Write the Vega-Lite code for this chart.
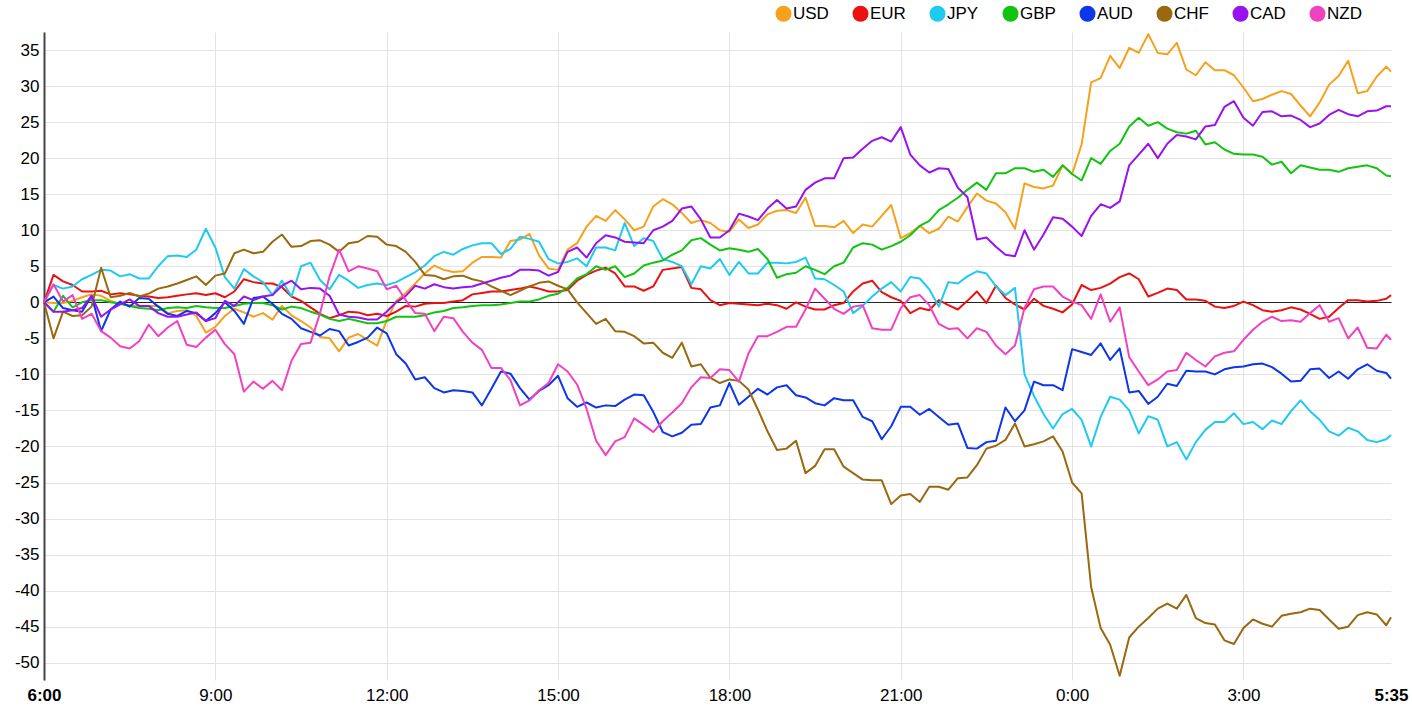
{
  "$schema": "https://vega.github.io/schema/vega-lite/v6.json",
  "width": 1347,
  "height": 648,
  "autosize": {"type": "none"},
  "padding": {"left": 44, "top": 32, "right": 21, "bottom": 31},
  "background": "white",
  "config": {"view": {"stroke": null}, "font": "Liberation Sans"},
  "data": {
    "values": [
      {"t": "2024-01-01T06:00", "USD": 0, "EUR": 0, "JPY": 0, "GBP": 0, "AUD": 0, "CHF": 0, "CAD": 0, "NZD": 0},
      {"t": "2024-01-01T06:10", "USD": -0.1, "EUR": 3.8, "JPY": 2.4, "GBP": -1.3, "AUD": 0.8, "CHF": -5.0, "CAD": -1.3, "NZD": 2.5},
      {"t": "2024-01-01T06:20", "USD": -0.1, "EUR": 2.9, "JPY": 1.9, "GBP": 0.9, "AUD": -0.8, "CHF": -1.3, "CAD": -1.3, "NZD": 0.1},
      {"t": "2024-01-01T06:30", "USD": 0.2, "EUR": 2.4, "JPY": 2.2, "GBP": -0.7, "AUD": -1.1, "CHF": -1.9, "CAD": -1.1, "NZD": 1.0},
      {"t": "2024-01-01T06:40", "USD": 0.7, "EUR": 1.5, "JPY": 3.2, "GBP": 0.0, "AUD": -1.3, "CHF": -1.8, "CAD": -0.8, "NZD": -2.3},
      {"t": "2024-01-01T06:50", "USD": 1.1, "EUR": 1.5, "JPY": 3.8, "GBP": 0.3, "AUD": 0.9, "CHF": -0.6, "CAD": 0.9, "NZD": -1.6},
      {"t": "2024-01-01T07:00", "USD": 0.9, "EUR": 1.6, "JPY": 4.5, "GBP": 0.3, "AUD": -4.0, "CHF": 4.8, "CAD": -2.0, "NZD": -4.0},
      {"t": "2024-01-01T07:10", "USD": 0.2, "EUR": 1.1, "JPY": 4.4, "GBP": 0.0, "AUD": -1.0, "CHF": 0.7, "CAD": -1.0, "NZD": -4.9},
      {"t": "2024-01-01T07:20", "USD": -0.2, "EUR": 1.25, "JPY": 3.6, "GBP": -0.2, "AUD": 0.1, "CHF": 0.9, "CAD": -0.3, "NZD": -6.1},
      {"t": "2024-01-01T07:30", "USD": -0.4, "EUR": 1.1, "JPY": 3.9, "GBP": -0.5, "AUD": -0.6, "CHF": 1.3, "CAD": 0.4, "NZD": -6.4},
      {"t": "2024-01-01T07:40", "USD": -0.6, "EUR": 0.9, "JPY": 3.3, "GBP": -0.8, "AUD": 0.6, "CHF": 0.8, "CAD": -0.5, "NZD": -5.4},
      {"t": "2024-01-01T07:50", "USD": -0.5, "EUR": 0.8, "JPY": 3.3, "GBP": -0.9, "AUD": 0.5, "CHF": 1.2, "CAD": -0.5, "NZD": -3.1},
      {"t": "2024-01-01T08:00", "USD": -0.5, "EUR": 0.6, "JPY": 5.0, "GBP": -1.1, "AUD": -0.6, "CHF": 1.9, "CAD": -1.5, "NZD": -4.7},
      {"t": "2024-01-01T08:10", "USD": -1.5, "EUR": 0.7, "JPY": 6.4, "GBP": -0.8, "AUD": -1.6, "CHF": 2.2, "CAD": -2.0, "NZD": -3.5},
      {"t": "2024-01-01T08:20", "USD": -1.2, "EUR": 0.9, "JPY": 6.5, "GBP": -0.7, "AUD": -1.9, "CHF": 2.6, "CAD": -2.0, "NZD": -2.6},
      {"t": "2024-01-01T08:30", "USD": -1.1, "EUR": 1.1, "JPY": 6.3, "GBP": -0.8, "AUD": -1.2, "CHF": 3.1, "CAD": -1.7, "NZD": -5.9},
      {"t": "2024-01-01T08:40", "USD": -1.9, "EUR": 1.25, "JPY": 7.3, "GBP": -0.5, "AUD": -1.5, "CHF": 3.6, "CAD": -1.4, "NZD": -6.2},
      {"t": "2024-01-01T08:50", "USD": -4.2, "EUR": 1.0, "JPY": 10.2, "GBP": -0.7, "AUD": -2.6, "CHF": 2.4, "CAD": -2.6, "NZD": -4.9},
      {"t": "2024-01-01T09:00", "USD": -3.4, "EUR": 1.25, "JPY": 7.6, "GBP": -0.8, "AUD": -1.5, "CHF": 3.7, "CAD": -2.2, "NZD": -3.8},
      {"t": "2024-01-01T09:10", "USD": -1.9, "EUR": 0.7, "JPY": 3.5, "GBP": -0.8, "AUD": 0.0, "CHF": 4.0, "CAD": 0.2, "NZD": -5.8},
      {"t": "2024-01-01T09:20", "USD": -0.9, "EUR": 1.5, "JPY": 1.9, "GBP": -0.5, "AUD": -1.2, "CHF": 6.8, "CAD": -0.5, "NZD": -7.2},
      {"t": "2024-01-01T09:30", "USD": -1.4, "EUR": 3.2, "JPY": 4.6, "GBP": -0.2, "AUD": -3.0, "CHF": 7.3, "CAD": 0.8, "NZD": -12.4},
      {"t": "2024-01-01T09:40", "USD": -2.0, "EUR": 2.8, "JPY": 3.6, "GBP": -0.1, "AUD": 0.6, "CHF": 6.8, "CAD": 0.3, "NZD": -11.0},
      {"t": "2024-01-01T09:50", "USD": -1.5, "EUR": 2.6, "JPY": 2.8, "GBP": -0.1, "AUD": 0.8, "CHF": 7.0, "CAD": 0.8, "NZD": -12.0},
      {"t": "2024-01-01T10:00", "USD": -2.4, "EUR": 2.6, "JPY": 1.0, "GBP": -0.4, "AUD": -0.2, "CHF": 8.4, "CAD": 1.0, "NZD": -10.9},
      {"t": "2024-01-01T10:10", "USD": -0.5, "EUR": 2.1, "JPY": 3.0, "GBP": -1.0, "AUD": -1.6, "CHF": 9.4, "CAD": 2.3, "NZD": -12.2},
      {"t": "2024-01-01T10:20", "USD": -1.8, "EUR": 0.8, "JPY": 0.8, "GBP": -0.6, "AUD": -2.3, "CHF": 7.7, "CAD": 3.0, "NZD": -8.1},
      {"t": "2024-01-01T10:30", "USD": -2.6, "EUR": 0.2, "JPY": 5.0, "GBP": -0.8, "AUD": -3.6, "CHF": 7.8, "CAD": 1.8, "NZD": -5.8},
      {"t": "2024-01-01T10:40", "USD": -3.5, "EUR": -0.7, "JPY": 5.5, "GBP": -1.3, "AUD": -4.1, "CHF": 8.5, "CAD": 2.0, "NZD": -5.6},
      {"t": "2024-01-01T10:50", "USD": -4.8, "EUR": -1.6, "JPY": 3.1, "GBP": -1.7, "AUD": -4.6, "CHF": 8.6, "CAD": 1.9, "NZD": -1.5},
      {"t": "2024-01-01T11:00", "USD": -5.0, "EUR": -2.2, "JPY": 1.8, "GBP": -2.3, "AUD": -3.7, "CHF": 8.0, "CAD": 0.9, "NZD": 3.6},
      {"t": "2024-01-01T11:10", "USD": -6.8, "EUR": -1.8, "JPY": 3.8, "GBP": -2.6, "AUD": -4.0, "CHF": 7.0, "CAD": -1.7, "NZD": 7.3},
      {"t": "2024-01-01T11:20", "USD": -4.9, "EUR": -1.3, "JPY": 3.0, "GBP": -2.3, "AUD": -6.0, "CHF": 8.2, "CAD": -2.0, "NZD": 4.3},
      {"t": "2024-01-01T11:30", "USD": -4.4, "EUR": -1.4, "JPY": 2.0, "GBP": -2.6, "AUD": -5.5, "CHF": 8.4, "CAD": -2.1, "NZD": 5.0},
      {"t": "2024-01-01T11:40", "USD": -5.2, "EUR": -1.8, "JPY": 2.4, "GBP": -2.9, "AUD": -4.9, "CHF": 9.2, "CAD": -2.4, "NZD": 4.7},
      {"t": "2024-01-01T11:50", "USD": -6.0, "EUR": -1.6, "JPY": 2.6, "GBP": -2.9, "AUD": -3.5, "CHF": 9.1, "CAD": -2.4, "NZD": 4.3},
      {"t": "2024-01-01T12:00", "USD": -2.5, "EUR": -1.9, "JPY": 2.4, "GBP": -2.6, "AUD": -4.3, "CHF": 8.0, "CAD": -1.3, "NZD": 1.8},
      {"t": "2024-01-01T12:10", "USD": 0.2, "EUR": -1.3, "JPY": 2.8, "GBP": -2.0, "AUD": -7.2, "CHF": 7.8, "CAD": 0.0, "NZD": 2.3},
      {"t": "2024-01-01T12:20", "USD": 1.3, "EUR": -0.5, "JPY": 3.5, "GBP": -2.0, "AUD": -8.5, "CHF": 7.0, "CAD": 0.9, "NZD": 0.3},
      {"t": "2024-01-01T12:30", "USD": 2.6, "EUR": -0.6, "JPY": 4.2, "GBP": -2.0, "AUD": -10.7, "CHF": 5.6, "CAD": 2.3, "NZD": -1.5},
      {"t": "2024-01-01T12:40", "USD": 4.0, "EUR": -0.2, "JPY": 5.1, "GBP": -1.8, "AUD": -10.4, "CHF": 3.8, "CAD": 1.9, "NZD": -1.6},
      {"t": "2024-01-01T12:50", "USD": 5.1, "EUR": -0.1, "JPY": 6.4, "GBP": -1.4, "AUD": -11.9, "CHF": 3.7, "CAD": 2.5, "NZD": -4.0},
      {"t": "2024-01-01T13:00", "USD": 4.5, "EUR": -0.1, "JPY": 7.0, "GBP": -1.2, "AUD": -12.5, "CHF": 3.2, "CAD": 2.1, "NZD": -2.0},
      {"t": "2024-01-01T13:10", "USD": 4.2, "EUR": 0.1, "JPY": 6.6, "GBP": -0.8, "AUD": -12.2, "CHF": 3.6, "CAD": 1.9, "NZD": -2.2},
      {"t": "2024-01-01T13:20", "USD": 4.3, "EUR": 0.3, "JPY": 7.4, "GBP": -0.7, "AUD": -12.3, "CHF": 3.7, "CAD": 2.1, "NZD": -4.1},
      {"t": "2024-01-01T13:30", "USD": 5.5, "EUR": 1.1, "JPY": 7.9, "GBP": -0.5, "AUD": -12.5, "CHF": 3.2, "CAD": 2.2, "NZD": -5.6},
      {"t": "2024-01-01T13:40", "USD": 6.3, "EUR": 1.3, "JPY": 8.2, "GBP": -0.4, "AUD": -14.3, "CHF": 2.9, "CAD": 2.6, "NZD": -6.6},
      {"t": "2024-01-01T13:50", "USD": 6.3, "EUR": 1.5, "JPY": 8.2, "GBP": -0.4, "AUD": -12.0, "CHF": 2.2, "CAD": 3.0, "NZD": -9.1},
      {"t": "2024-01-01T14:00", "USD": 6.2, "EUR": 1.5, "JPY": 6.7, "GBP": -0.3, "AUD": -9.6, "CHF": 1.6, "CAD": 3.4, "NZD": -9.1},
      {"t": "2024-01-01T14:10", "USD": 8.5, "EUR": 1.7, "JPY": 7.4, "GBP": -0.1, "AUD": -9.9, "CHF": 1.0, "CAD": 3.7, "NZD": -10.8},
      {"t": "2024-01-01T14:20", "USD": 8.7, "EUR": 1.9, "JPY": 9.1, "GBP": 0.1, "AUD": -11.9, "CHF": 1.6, "CAD": 4.5, "NZD": -14.3},
      {"t": "2024-01-01T14:30", "USD": 9.5, "EUR": 2.2, "JPY": 8.8, "GBP": 0.1, "AUD": -13.5, "CHF": 2.2, "CAD": 4.5, "NZD": -13.6},
      {"t": "2024-01-01T14:40", "USD": 6.5, "EUR": 1.9, "JPY": 8.4, "GBP": 0.4, "AUD": -12.3, "CHF": 2.7, "CAD": 4.4, "NZD": -12.2},
      {"t": "2024-01-01T14:50", "USD": 4.7, "EUR": 1.5, "JPY": 6.0, "GBP": 0.9, "AUD": -11.5, "CHF": 2.9, "CAD": 3.7, "NZD": -11.2},
      {"t": "2024-01-01T15:00", "USD": 4.5, "EUR": 1.5, "JPY": 5.4, "GBP": 1.2, "AUD": -10.2, "CHF": 2.3, "CAD": 4.2, "NZD": -8.6},
      {"t": "2024-01-01T15:10", "USD": 7.3, "EUR": 1.7, "JPY": 5.6, "GBP": 2.0, "AUD": -13.3, "CHF": 1.8, "CAD": 7.0, "NZD": -9.6},
      {"t": "2024-01-01T15:20", "USD": 8.2, "EUR": 3.0, "JPY": 6.1, "GBP": 3.3, "AUD": -14.5, "CHF": 0.0, "CAD": 7.6, "NZD": -11.4},
      {"t": "2024-01-01T15:30", "USD": 10.5, "EUR": 3.8, "JPY": 5.0, "GBP": 3.9, "AUD": -13.9, "CHF": -1.5, "CAD": 6.2, "NZD": -14.8},
      {"t": "2024-01-01T15:40", "USD": 12.0, "EUR": 4.4, "JPY": 7.6, "GBP": 5.0, "AUD": -14.6, "CHF": -3.0, "CAD": 8.2, "NZD": -19.2},
      {"t": "2024-01-01T15:50", "USD": 11.3, "EUR": 4.8, "JPY": 7.6, "GBP": 4.5, "AUD": -14.3, "CHF": -2.3, "CAD": 9.3, "NZD": -21.2},
      {"t": "2024-01-01T16:00", "USD": 12.8, "EUR": 4.0, "JPY": 7.2, "GBP": 5.0, "AUD": -14.4, "CHF": -4.0, "CAD": 9.0, "NZD": -19.3},
      {"t": "2024-01-01T16:10", "USD": 11.5, "EUR": 2.2, "JPY": 11.0, "GBP": 3.5, "AUD": -13.5, "CHF": -4.1, "CAD": 8.4, "NZD": -18.7},
      {"t": "2024-01-01T16:20", "USD": 10.0, "EUR": 2.2, "JPY": 7.8, "GBP": 4.0, "AUD": -12.8, "CHF": -4.7, "CAD": 8.3, "NZD": -16.1},
      {"t": "2024-01-01T16:30", "USD": 10.5, "EUR": 1.6, "JPY": 8.9, "GBP": 5.1, "AUD": -12.9, "CHF": -5.7, "CAD": 8.2, "NZD": -17.0},
      {"t": "2024-01-01T16:40", "USD": 13.3, "EUR": 2.2, "JPY": 8.5, "GBP": 5.5, "AUD": -15.2, "CHF": -5.6, "CAD": 10.0, "NZD": -18.0},
      {"t": "2024-01-01T16:50", "USD": 14.3, "EUR": 4.5, "JPY": 6.0, "GBP": 5.8, "AUD": -18.0, "CHF": -7.0, "CAD": 10.5, "NZD": -16.5},
      {"t": "2024-01-01T17:00", "USD": 13.6, "EUR": 4.7, "JPY": 5.6, "GBP": 6.6, "AUD": -18.6, "CHF": -7.7, "CAD": 11.3, "NZD": -15.3},
      {"t": "2024-01-01T17:10", "USD": 12.4, "EUR": 4.9, "JPY": 5.0, "GBP": 7.2, "AUD": -18.1, "CHF": -5.6, "CAD": 13.0, "NZD": -14.0},
      {"t": "2024-01-01T17:20", "USD": 11.0, "EUR": 2.0, "JPY": 2.5, "GBP": 8.6, "AUD": -17.0, "CHF": -8.9, "CAD": 13.3, "NZD": -11.8},
      {"t": "2024-01-01T17:30", "USD": 11.4, "EUR": 1.8, "JPY": 5.0, "GBP": 8.9, "AUD": -16.9, "CHF": -8.6, "CAD": 11.5, "NZD": -10.4},
      {"t": "2024-01-01T17:40", "USD": 11.0, "EUR": 0.3, "JPY": 4.7, "GBP": 8.0, "AUD": -14.6, "CHF": -10.5, "CAD": 9.0, "NZD": -10.5},
      {"t": "2024-01-01T17:50", "USD": 10.0, "EUR": -0.4, "JPY": 6.0, "GBP": 7.2, "AUD": -14.3, "CHF": -11.2, "CAD": 9.0, "NZD": -9.3},
      {"t": "2024-01-01T18:00", "USD": 9.8, "EUR": -0.1, "JPY": 3.8, "GBP": 7.5, "AUD": -11.2, "CHF": -10.7, "CAD": 10.0, "NZD": -9.4},
      {"t": "2024-01-01T18:10", "USD": 11.5, "EUR": -0.2, "JPY": 5.6, "GBP": 7.3, "AUD": -14.2, "CHF": -10.9, "CAD": 12.3, "NZD": -11.0},
      {"t": "2024-01-01T18:20", "USD": 10.3, "EUR": -0.3, "JPY": 4.0, "GBP": 7.0, "AUD": -13.1, "CHF": -12.1, "CAD": 11.9, "NZD": -7.1},
      {"t": "2024-01-01T18:30", "USD": 10.8, "EUR": -0.4, "JPY": 4.0, "GBP": 7.4, "AUD": -12.0, "CHF": -14.9, "CAD": 11.4, "NZD": -4.7},
      {"t": "2024-01-01T18:40", "USD": 12.2, "EUR": -0.2, "JPY": 5.5, "GBP": 6.0, "AUD": -12.8, "CHF": -17.9, "CAD": 13.0, "NZD": -4.7},
      {"t": "2024-01-01T18:50", "USD": 12.7, "EUR": -0.4, "JPY": 5.5, "GBP": 3.4, "AUD": -11.8, "CHF": -20.5, "CAD": 14.2, "NZD": -4.1},
      {"t": "2024-01-01T19:00", "USD": 12.8, "EUR": -0.9, "JPY": 5.4, "GBP": 3.9, "AUD": -11.5, "CHF": -20.3, "CAD": 13.0, "NZD": -3.4},
      {"t": "2024-01-01T19:10", "USD": 12.4, "EUR": 0.0, "JPY": 5.6, "GBP": 4.1, "AUD": -12.9, "CHF": -19.2, "CAD": 13.3, "NZD": -3.4},
      {"t": "2024-01-01T19:20", "USD": 14.5, "EUR": -0.6, "JPY": 6.2, "GBP": 5.0, "AUD": -13.2, "CHF": -23.7, "CAD": 15.6, "NZD": -1.0},
      {"t": "2024-01-01T19:30", "USD": 10.6, "EUR": -1.0, "JPY": 3.3, "GBP": 4.5, "AUD": -14.0, "CHF": -22.7, "CAD": 16.6, "NZD": 1.9},
      {"t": "2024-01-01T19:40", "USD": 10.6, "EUR": -1.0, "JPY": 3.2, "GBP": 3.9, "AUD": -14.3, "CHF": -20.4, "CAD": 17.2, "NZD": 0.5},
      {"t": "2024-01-01T19:50", "USD": 10.4, "EUR": -0.4, "JPY": 2.4, "GBP": 5.0, "AUD": -13.3, "CHF": -20.4, "CAD": 17.2, "NZD": -0.9},
      {"t": "2024-01-01T20:00", "USD": 11.3, "EUR": -0.1, "JPY": 1.5, "GBP": 5.5, "AUD": -13.6, "CHF": -22.8, "CAD": 20.0, "NZD": -1.6},
      {"t": "2024-01-01T20:10", "USD": 9.6, "EUR": 1.5, "JPY": -1.5, "GBP": 7.6, "AUD": -13.6, "CHF": -23.7, "CAD": 20.1, "NZD": -0.6},
      {"t": "2024-01-01T20:20", "USD": 10.8, "EUR": 2.6, "JPY": -0.5, "GBP": 8.2, "AUD": -15.9, "CHF": -24.6, "CAD": 21.3, "NZD": -0.4},
      {"t": "2024-01-01T20:30", "USD": 10.5, "EUR": 3.0, "JPY": 0.8, "GBP": 8.0, "AUD": -16.5, "CHF": -24.7, "CAD": 22.4, "NZD": -3.6},
      {"t": "2024-01-01T20:40", "USD": 12.0, "EUR": 1.4, "JPY": 1.9, "GBP": 7.3, "AUD": -19.0, "CHF": -24.7, "CAD": 22.9, "NZD": -3.8},
      {"t": "2024-01-01T20:50", "USD": 13.5, "EUR": 0.7, "JPY": 2.8, "GBP": 7.8, "AUD": -17.2, "CHF": -28.0, "CAD": 22.3, "NZD": -3.8},
      {"t": "2024-01-01T21:00", "USD": 8.9, "EUR": 0.2, "JPY": 1.5, "GBP": 8.4, "AUD": -14.5, "CHF": -26.8, "CAD": 24.3, "NZD": -0.8},
      {"t": "2024-01-01T21:10", "USD": 9.6, "EUR": -1.5, "JPY": 3.5, "GBP": 9.3, "AUD": -14.5, "CHF": -26.6, "CAD": 20.5, "NZD": 0.7},
      {"t": "2024-01-01T21:20", "USD": 10.6, "EUR": -0.8, "JPY": 3.3, "GBP": 10.6, "AUD": -15.6, "CHF": -27.7, "CAD": 19.0, "NZD": 1.0},
      {"t": "2024-01-01T21:30", "USD": 9.6, "EUR": -1.1, "JPY": 1.8, "GBP": 11.3, "AUD": -14.8, "CHF": -25.6, "CAD": 18.0, "NZD": -0.4},
      {"t": "2024-01-01T21:40", "USD": 10.2, "EUR": 0.3, "JPY": -0.6, "GBP": 12.8, "AUD": -15.9, "CHF": -25.6, "CAD": 18.6, "NZD": -3.0},
      {"t": "2024-01-01T21:50", "USD": 11.9, "EUR": -0.4, "JPY": 2.8, "GBP": 13.6, "AUD": -17.0, "CHF": -26.0, "CAD": 18.5, "NZD": -3.7},
      {"t": "2024-01-01T22:00", "USD": 11.2, "EUR": -1.0, "JPY": 2.6, "GBP": 14.5, "AUD": -16.8, "CHF": -24.4, "CAD": 15.9, "NZD": -3.6},
      {"t": "2024-01-01T22:10", "USD": 13.2, "EUR": 0.2, "JPY": 3.6, "GBP": 15.6, "AUD": -20.2, "CHF": -24.3, "CAD": 14.6, "NZD": -5.0},
      {"t": "2024-01-01T22:20", "USD": 15.1, "EUR": 1.5, "JPY": 4.3, "GBP": 16.6, "AUD": -20.3, "CHF": -22.6, "CAD": 8.7, "NZD": -3.6},
      {"t": "2024-01-01T22:30", "USD": 14.1, "EUR": -0.1, "JPY": 4.0, "GBP": 15.6, "AUD": -19.4, "CHF": -20.3, "CAD": 9.0, "NZD": -4.1},
      {"t": "2024-01-01T22:40", "USD": 13.7, "EUR": 2.3, "JPY": 2.2, "GBP": 17.9, "AUD": -19.2, "CHF": -19.9, "CAD": 7.7, "NZD": -6.0},
      {"t": "2024-01-01T22:50", "USD": 12.5, "EUR": 0.6, "JPY": 1.0, "GBP": 17.9, "AUD": -14.6, "CHF": -19.1, "CAD": 6.6, "NZD": -7.2},
      {"t": "2024-01-01T23:00", "USD": 10.2, "EUR": -0.3, "JPY": 2.0, "GBP": 18.6, "AUD": -16.5, "CHF": -16.8, "CAD": 6.4, "NZD": -6.0},
      {"t": "2024-01-01T23:10", "USD": 16.5, "EUR": -1.0, "JPY": -10.0, "GBP": 18.6, "AUD": -15.0, "CHF": -20.0, "CAD": 10.0, "NZD": -0.8},
      {"t": "2024-01-01T23:20", "USD": 16.0, "EUR": 0.5, "JPY": -13.0, "GBP": 18.1, "AUD": -11.0, "CHF": -19.7, "CAD": 7.3, "NZD": 1.8},
      {"t": "2024-01-01T23:30", "USD": 15.8, "EUR": -0.5, "JPY": -15.5, "GBP": 18.4, "AUD": -11.5, "CHF": -19.3, "CAD": 9.4, "NZD": 2.2},
      {"t": "2024-01-01T23:40", "USD": 16.2, "EUR": -0.9, "JPY": -17.5, "GBP": 17.4, "AUD": -11.5, "CHF": -18.6, "CAD": 11.8, "NZD": 2.2},
      {"t": "2024-01-01T23:50", "USD": 19.0, "EUR": -1.4, "JPY": -15.5, "GBP": 19.0, "AUD": -12.2, "CHF": -20.7, "CAD": 11.6, "NZD": 0.8},
      {"t": "2024-01-02T00:00", "USD": 17.8, "EUR": -0.3, "JPY": -14.8, "GBP": 17.8, "AUD": -6.5, "CHF": -25.0, "CAD": 10.5, "NZD": 0.1},
      {"t": "2024-01-02T00:10", "USD": 21.9, "EUR": 2.4, "JPY": -16.3, "GBP": 16.9, "AUD": -6.9, "CHF": -26.5, "CAD": 9.2, "NZD": -0.4},
      {"t": "2024-01-02T00:20", "USD": 30.5, "EUR": 1.7, "JPY": -20.0, "GBP": 20.0, "AUD": -7.3, "CHF": -39.5, "CAD": 12.0, "NZD": -2.3},
      {"t": "2024-01-02T00:30", "USD": 31.1, "EUR": 2.0, "JPY": -15.9, "GBP": 19.2, "AUD": -5.7, "CHF": -45.2, "CAD": 13.6, "NZD": 1.1},
      {"t": "2024-01-02T00:40", "USD": 34.2, "EUR": 2.6, "JPY": -13.1, "GBP": 21.0, "AUD": -8.0, "CHF": -47.5, "CAD": 13.1, "NZD": -2.7},
      {"t": "2024-01-02T00:50", "USD": 32.5, "EUR": 3.5, "JPY": -13.5, "GBP": 22.0, "AUD": -6.4, "CHF": -51.8, "CAD": 14.0, "NZD": -0.7},
      {"t": "2024-01-02T01:00", "USD": 35.3, "EUR": 4.0, "JPY": -15.0, "GBP": 24.4, "AUD": -12.5, "CHF": -46.5, "CAD": 19.0, "NZD": -7.6},
      {"t": "2024-01-02T01:10", "USD": 34.6, "EUR": 3.2, "JPY": -18.2, "GBP": 25.6, "AUD": -12.3, "CHF": -45.0, "CAD": 20.5, "NZD": -9.6},
      {"t": "2024-01-02T01:20", "USD": 37.2, "EUR": 0.8, "JPY": -15.8, "GBP": 24.5, "AUD": -14.1, "CHF": -43.8, "CAD": 22.0, "NZD": -11.5},
      {"t": "2024-01-02T01:30", "USD": 34.6, "EUR": 1.3, "JPY": -16.3, "GBP": 25.0, "AUD": -13.1, "CHF": -42.5, "CAD": 20.0, "NZD": -10.7},
      {"t": "2024-01-02T01:40", "USD": 34.4, "EUR": 1.9, "JPY": -20.0, "GBP": 24.1, "AUD": -11.3, "CHF": -41.8, "CAD": 22.0, "NZD": -9.6},
      {"t": "2024-01-02T01:50", "USD": 36.0, "EUR": 1.7, "JPY": -19.4, "GBP": 23.6, "AUD": -11.6, "CHF": -42.5, "CAD": 23.2, "NZD": -9.4},
      {"t": "2024-01-02T02:00", "USD": 32.3, "EUR": 0.4, "JPY": -21.8, "GBP": 23.4, "AUD": -9.5, "CHF": -40.6, "CAD": 23.0, "NZD": -7.0},
      {"t": "2024-01-02T02:10", "USD": 31.5, "EUR": 0.4, "JPY": -19.4, "GBP": 23.8, "AUD": -9.6, "CHF": -43.8, "CAD": 22.6, "NZD": -8.0},
      {"t": "2024-01-02T02:20", "USD": 33.3, "EUR": 0.2, "JPY": -17.7, "GBP": 21.9, "AUD": -9.6, "CHF": -44.5, "CAD": 24.4, "NZD": -8.9},
      {"t": "2024-01-02T02:30", "USD": 32.2, "EUR": -0.6, "JPY": -16.6, "GBP": 22.2, "AUD": -10.0, "CHF": -44.7, "CAD": 24.6, "NZD": -7.5},
      {"t": "2024-01-02T02:40", "USD": 32.2, "EUR": -0.8, "JPY": -16.6, "GBP": 21.2, "AUD": -9.3, "CHF": -46.9, "CAD": 27.1, "NZD": -7.0},
      {"t": "2024-01-02T02:50", "USD": 31.5, "EUR": -0.5, "JPY": -15.4, "GBP": 20.6, "AUD": -9.0, "CHF": -47.4, "CAD": 27.9, "NZD": -6.8},
      {"t": "2024-01-02T03:00", "USD": 29.8, "EUR": 0.1, "JPY": -16.9, "GBP": 20.5, "AUD": -8.9, "CHF": -45.2, "CAD": 25.6, "NZD": -5.2},
      {"t": "2024-01-02T03:10", "USD": 27.9, "EUR": -0.4, "JPY": -16.6, "GBP": 20.5, "AUD": -8.6, "CHF": -44.0, "CAD": 24.5, "NZD": -3.8},
      {"t": "2024-01-02T03:20", "USD": 28.2, "EUR": -1.1, "JPY": -17.6, "GBP": 20.2, "AUD": -8.5, "CHF": -44.6, "CAD": 26.4, "NZD": -2.7},
      {"t": "2024-01-02T03:30", "USD": 28.8, "EUR": -1.3, "JPY": -16.4, "GBP": 19.1, "AUD": -9.0, "CHF": -45.0, "CAD": 26.5, "NZD": -2.0},
      {"t": "2024-01-02T03:40", "USD": 29.3, "EUR": -1.1, "JPY": -16.9, "GBP": 19.5, "AUD": -9.9, "CHF": -43.5, "CAD": 25.8, "NZD": -2.6},
      {"t": "2024-01-02T03:50", "USD": 28.9, "EUR": -0.7, "JPY": -15.1, "GBP": 17.9, "AUD": -11.0, "CHF": -43.2, "CAD": 25.9, "NZD": -2.5},
      {"t": "2024-01-02T04:00", "USD": 27.3, "EUR": -1.0, "JPY": -13.6, "GBP": 19.0, "AUD": -10.9, "CHF": -43.0, "CAD": 25.3, "NZD": -2.7},
      {"t": "2024-01-02T04:10", "USD": 25.8, "EUR": -1.6, "JPY": -15.1, "GBP": 18.7, "AUD": -9.3, "CHF": -42.5, "CAD": 24.3, "NZD": -1.5},
      {"t": "2024-01-02T04:20", "USD": 27.7, "EUR": -2.3, "JPY": -16.3, "GBP": 18.4, "AUD": -9.2, "CHF": -42.7, "CAD": 24.8, "NZD": -0.4},
      {"t": "2024-01-02T04:30", "USD": 30.2, "EUR": -2.0, "JPY": -17.9, "GBP": 18.4, "AUD": -10.5, "CHF": -44.0, "CAD": 26.0, "NZD": -2.7},
      {"t": "2024-01-02T04:40", "USD": 31.4, "EUR": -0.8, "JPY": -18.5, "GBP": 18.1, "AUD": -9.6, "CHF": -45.3, "CAD": 26.7, "NZD": -2.2},
      {"t": "2024-01-02T04:50", "USD": 33.5, "EUR": 0.3, "JPY": -17.4, "GBP": 18.6, "AUD": -10.6, "CHF": -45.0, "CAD": 26.1, "NZD": -5.0},
      {"t": "2024-01-02T05:00", "USD": 29.0, "EUR": 0.3, "JPY": -17.9, "GBP": 18.8, "AUD": -9.3, "CHF": -43.4, "CAD": 25.8, "NZD": -3.5},
      {"t": "2024-01-02T05:10", "USD": 29.3, "EUR": 0.1, "JPY": -19.1, "GBP": 19.0, "AUD": -8.6, "CHF": -43.0, "CAD": 26.5, "NZD": -6.3},
      {"t": "2024-01-02T05:20", "USD": 31.3, "EUR": 0.2, "JPY": -19.4, "GBP": 18.6, "AUD": -9.5, "CHF": -43.3, "CAD": 26.6, "NZD": -6.4},
      {"t": "2024-01-02T05:30", "USD": 32.7, "EUR": 0.5, "JPY": -19.0, "GBP": 17.6, "AUD": -9.8, "CHF": -44.8, "CAD": 27.2, "NZD": -4.5},
      {"t": "2024-01-02T05:35", "USD": 32.0, "EUR": 1.0, "JPY": -18.4, "GBP": 17.5, "AUD": -10.6, "CHF": -43.7, "CAD": 27.2, "NZD": -5.2}
    ]
  },
  "transform": [
    {"fold": ["USD", "EUR", "JPY", "GBP", "AUD", "CHF", "CAD", "NZD"], "as": ["currency", "value"]}
  ],
  "mark": {"type": "line", "strokeWidth": 2, "strokeJoin": "round"},
  "encoding": {
    "x": {
      "field": "t",
      "type": "temporal",
      "scale": {
        "domain": [
          {"year": 2024, "month": 1, "date": 1, "hours": 6, "minutes": 0},
          {"year": 2024, "month": 1, "date": 2, "hours": 5, "minutes": 35}
        ]
      },
      "axis": {
        "title": null,
        "values": [
          {"year": 2024, "month": 1, "date": 1, "hours": 6, "minutes": 0},
          {"year": 2024, "month": 1, "date": 1, "hours": 9, "minutes": 0},
          {"year": 2024, "month": 1, "date": 1, "hours": 12, "minutes": 0},
          {"year": 2024, "month": 1, "date": 1, "hours": 15, "minutes": 0},
          {"year": 2024, "month": 1, "date": 1, "hours": 18, "minutes": 0},
          {"year": 2024, "month": 1, "date": 1, "hours": 21, "minutes": 0},
          {"year": 2024, "month": 1, "date": 2, "hours": 0, "minutes": 0},
          {"year": 2024, "month": 1, "date": 2, "hours": 3, "minutes": 0},
          {"year": 2024, "month": 1, "date": 2, "hours": 5, "minutes": 35}
        ],
        "format": "%-H:%M",
        "domain": false,
        "ticks": false,
        "labelPadding": 7,
        "labelFontSize": 17,
        "labelColor": "#000",
        "labelFlush": false,
        "labelOverlap": false,
        "labelFontWeight": {"condition": {"test": "datum.index === 0 || datum.index === 1", "value": "bold"}, "value": "normal"},
        "gridColor": "#e3e3e3",
        "gridWidth": 1,
        "gridOpacity": {"condition": {"test": "datum.index === 1", "value": 0}, "value": 1}
      }
    },
    "y": {
      "field": "value",
      "type": "quantitative",
      "scale": {"domain": [-52.4, 37.5], "nice": false, "zero": false},
      "axis": {
        "title": null,
        "values": [-50, -45, -40, -35, -30, -25, -20, -15, -10, -5, 0, 5, 10, 15, 20, 25, 30, 35],
        "labelExpr": "'' + datum.value",
        "domainColor": "#444",
        "domainWidth": 2,
        "ticks": false,
        "labelPadding": 5,
        "labelFontSize": 17,
        "labelColor": "#000",
        "gridColor": {"condition": {"test": "datum.value === 0", "value": "#222"}, "value": "#e3e3e3"},
        "gridWidth": 1
      }
    },
    "color": {
      "field": "currency",
      "type": "nominal",
      "scale": {
        "domain": ["USD", "EUR", "JPY", "GBP", "AUD", "CHF", "CAD", "NZD"],
        "range": ["#f5a11c", "#ec1111", "#1fcaf0", "#12c312", "#0d35ea", "#9a680e", "#9812ee", "#f042c0"]
      },
      "legend": {
        "title": null,
        "orient": "none",
        "legendX": 731,
        "legendY": -27,
        "direction": "horizontal",
        "padding": 0,
        "symbolType": "circle",
        "symbolSize": 256,
        "labelFontSize": 17,
        "labelColor": "#000",
        "labelOffset": 1,
        "columnPadding": 23,
        "encode": {
          "symbols": {
            "update": {
              "fill": {"scale": "color", "field": "value"},
              "strokeWidth": {"value": 0},
              "opacity": {"value": 1}
            }
          }
        }
      }
    }
  }
}
